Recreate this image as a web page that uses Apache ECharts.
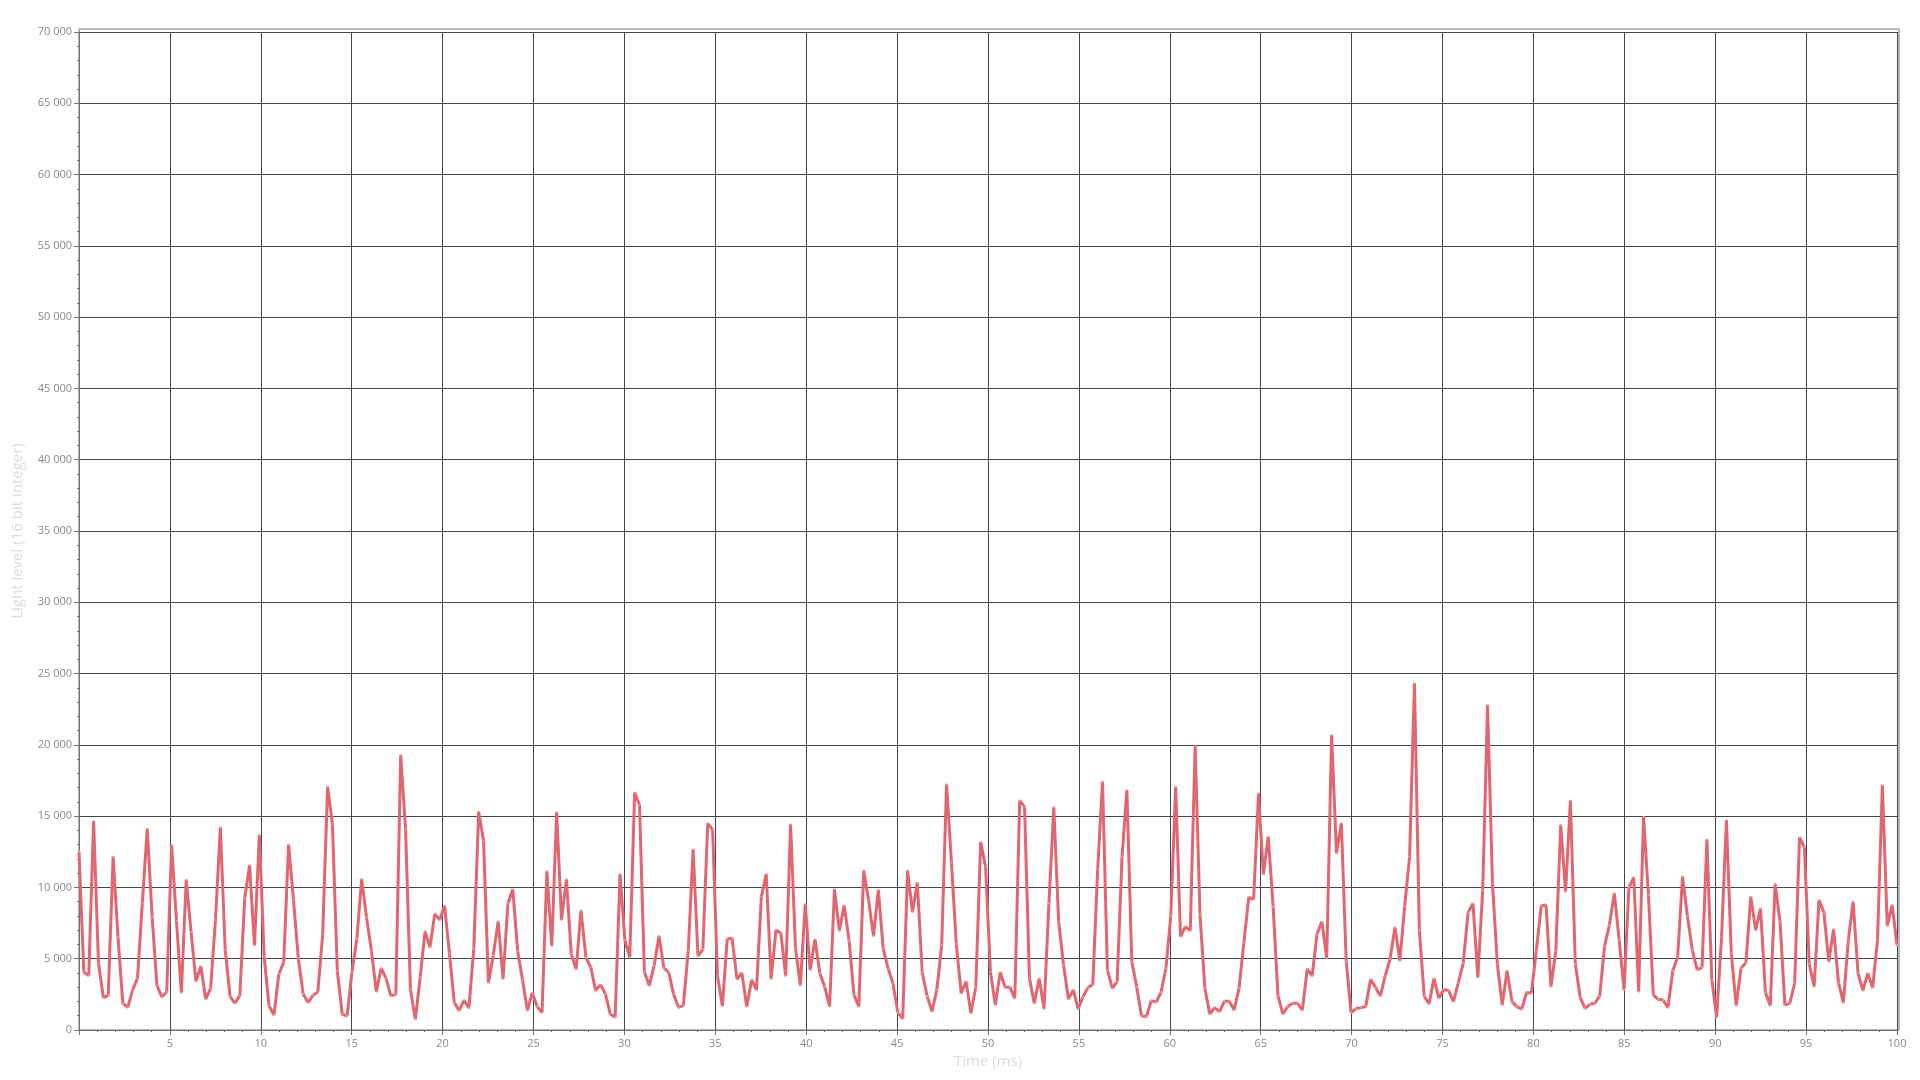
<!DOCTYPE html>
<html>
<head>
<meta charset="utf-8">
<script src="https://cdn.jsdelivr.net/npm/echarts@6/dist/echarts.min.js"></script>
<style>
  html, body { margin: 0; padding: 0; background: #ffffff; }
  #chart { width: 1920px; height: 1080px; }
</style>
</head>
<body>
<div id="chart"></div>
<script>
// ---- data ----
const sampleStepMs = 100 / 373;           // sampling period (ms)
const xAxisTitle = 'Time (ms)';
const yAxisTitle = 'Light level (16 bit integer)';
const xRange = [0, 100];
const yRange = [0, 70000];
const xTickStep = 5;
const yTickStep = 5000;

const lightLevel = [
  12500, 4050, 3830, 14660, 4680, 2270, 2430, 12160, 6500, 1850, 1590, 2810, 3620, 8930, 14120, 7950, 3110, 2320, 2690, 12980,
  7650, 2620, 10540, 6870, 3410, 4470, 2170, 2920, 7720, 14220, 5610, 2340, 1870, 2430, 9240, 11550, 5940, 13680, 5100, 1680,
  1050, 3930, 4750, 13000, 9120, 5000,
  2530, 1920, 2430, 2670, 6710, 17070, 14450, 4140, 1120, 980, 4050, 6380, 10590, 7900, 5540, 2690, 4330, 3620, 2390, 2500,
  19290, 14100, 2850, 750, 3690, 6920, 5800, 8160, 7720, 8720, 5380, 1920, 1360, 2080, 1540, 5710, 15310, 13280, 3320, 5240,
  7620, 3580, 8860, 9870, 5540, 3510, 1360,
  2620, 1640, 1220, 11150, 5890, 15290, 7720, 10570, 5310, 4260, 8390, 5100, 4400, 2760, 3180, 2530, 1120, 890, 10940, 6310,
  5100, 16650, 15780, 4090, 3110, 4510, 6590, 4350, 4050, 2500, 1590, 1710, 5560, 12670, 5190, 5660, 14500, 14030, 3790, 1680,
  6380, 6430, 3550, 4020, 1640, 3510, 2810,
  9350, 10940, 3580, 7010, 6780, 3790, 14430, 5730, 3130, 8840, 4210, 6360, 3980, 3040, 1640, 9870, 6970, 8740, 6270, 2460,
  1640, 11180, 9120, 6590, 9820, 5710, 4330, 3270, 1220, 800, 11180, 8280, 10330, 4050, 2390, 1290, 2810, 5940, 17230, 11740,
  6030, 2570, 3410, 1170, 3040, 13190, 11460,
  4090, 1750, 4050, 2990, 2990, 2220, 16090, 15670, 3620, 1870, 3620, 1470, 8880, 15620, 7600, 4560, 2170, 2810, 1470, 2340,
  2970, 3200, 11270, 17420, 4210, 2920, 3390, 12160, 16830, 4790, 3040, 980, 940, 2060, 1960, 2640, 4330, 8000, 17070, 6550,
  7250, 6970, 19920, 8070, 2920, 1120,
  1570, 1290, 2010, 2010, 1400, 2920, 6130, 9310, 9170, 16600, 10920, 13560, 8650, 2390, 1120, 1640, 1870, 1870, 1400, 4280,
  3790, 6730, 7600, 5030, 20690, 12390, 14500, 4790, 1220, 1500, 1570, 1640, 3550, 2990, 2390, 3810, 4980, 7200, 4860, 8700,
  12160, 24320, 7010, 2390, 1820, 3620, 2220,
  2850, 2760, 1990, 3320, 4680, 8250, 8880, 3690, 9820, 22800, 10290, 4630, 1750, 4160, 1990, 1640, 1470, 2620, 2620, 5560,
  8700, 8770, 3040, 5560, 14380, 9700, 16090, 4630, 2290, 1520, 1800, 1870, 2390, 5890, 7370, 9590, 6310, 2810, 10010, 10710,
  2690, 14960, 9470, 2460, 2150, 2100,
  1570, 4160, 5140, 10760, 8000, 5610, 4210, 4400, 13370, 3550, 890, 6500, 14730, 5380, 1710, 4330, 4720, 9350, 7010, 8530,
  2640, 1710, 10240, 7600, 1750, 1870, 3270, 13510, 12810, 4630, 3040, 9120, 8250, 4790, 7060, 3320, 1920, 6270, 9000, 3980,
  2760, 3980, 2970, 6310, 17180, 7320, 8770, 5960
];

// ---- chart ----
const seriesData = lightLevel.map((v, i) => [i * sampleStepMs, v]);
const fmtThousands = v => String(v).replace(/\B(?=(\d{3})+(?!\d))/g, ' ');

const FONT = "'Open Sans', 'Noto Sans', sans-serif";
const chart = echarts.init(document.getElementById('chart'), null, { renderer: 'canvas' });

chart.setOption({
  backgroundColor: '#ffffff',
  animation: false,
  grid: [
    { left: 79, right: 23, top: 32, bottom: 50, containLabel: false },
    { left: 79, right: 21, top: 29, bottom: 50, show: true, borderColor: '#6e727a', borderWidth: 1, backgroundColor: 'transparent', z: 0 }
  ],
  xAxis: [{
    gridIndex: 0,
    type: 'value',
    min: xRange[0], max: xRange[1], interval: xTickStep,
    name: xAxisTitle,
    nameLocation: 'middle',
    nameGap: 24,
    nameTextStyle: { color: '#dcdcdc', fontSize: 15, fontFamily: FONT },
    axisLine: { show: true, lineStyle: { color: '#6e727a', width: 1 } },
    axisTick: { show: true, length: 5, lineStyle: { color: '#6e727a' } },
    minorTick: { show: true, splitNumber: 5, length: 2, lineStyle: { color: '#6e727a' } },
    axisLabel: {
      color: '#8a8a8a', fontSize: 11, fontFamily: FONT, margin: 8,
      formatter: v => (v === 0 ? '' : String(v))
    },
    splitLine: { show: true, lineStyle: { color: '#41464f', width: 1 } }
  }, {
    gridIndex: 1, type: 'value', min: 0, max: 1, show: false
  }],
  yAxis: [{
    gridIndex: 0,
    type: 'value',
    min: yRange[0], max: yRange[1], interval: yTickStep,
    name: yAxisTitle,
    nameLocation: 'middle',
    nameGap: 54,
    nameTextStyle: { color: '#dcdcdc', fontSize: 15, fontFamily: FONT },
    axisLine: { show: true, lineStyle: { color: '#6e727a', width: 1 } },
    axisTick: { show: true, length: 5, lineStyle: { color: '#6e727a' } },
    minorTick: { show: true, splitNumber: 5, length: 2, lineStyle: { color: '#6e727a' } },
    axisLabel: {
      color: '#8a8a8a', fontSize: 11, fontFamily: FONT, margin: 7,
      formatter: v => fmtThousands(v)
    },
    splitLine: { show: true, lineStyle: { color: '#41464f', width: 1 } }
  }, {
    gridIndex: 1, type: 'value', min: 0, max: 1, show: false
  }],
  series: [{
    type: 'line',
    xAxisIndex: 0, yAxisIndex: 0,
    data: seriesData,
    showSymbol: true,
    symbol: 'circle',
    symbolSize: 2,
    itemStyle: { color: '#ee9aa1' },
    lineStyle: { color: '#e2666f', width: 3 },
    clip: true,
    z: 3
  }]
});
</script>
</body>
</html>
